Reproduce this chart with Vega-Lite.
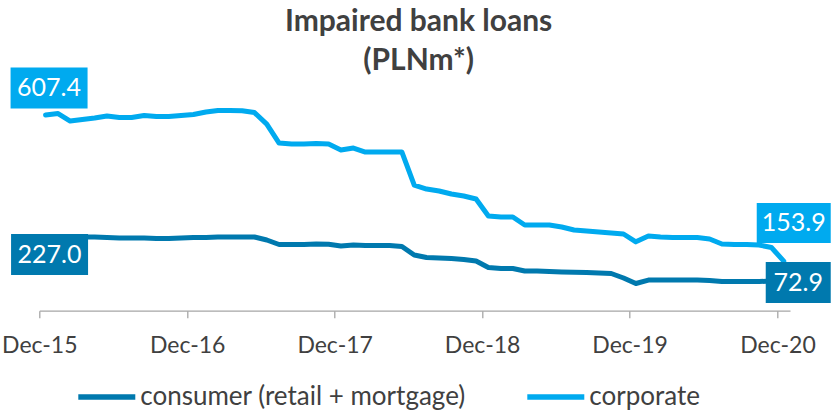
{
  "$schema": "https://vega.github.io/schema/vega-lite/v6.json",
  "width": 750.7,
  "height": 225.5,
  "autosize": "none",
  "padding": {"left": 39.3, "top": 85.2, "right": 46, "bottom": 101.3},
  "background": "white",
  "config": {"view": {"stroke": null}, "font": "Lato"},
  "title": {
    "text": ["Impaired bank loans", "(PLNm*)"],
    "font": "Lato",
    "fontSize": 30,
    "fontWeight": "bold",
    "color": "#404040",
    "lineHeight": 39,
    "anchor": "middle",
    "offset": -8,
    "dx": 4
  },
  "data": {
    "values": [
      {"date": "2015-12-01T00:00", "consumer": 227.0, "corporate": 607.4},
      {"date": "2016-01-01T00:00", "consumer": 228.0, "corporate": 612.0},
      {"date": "2016-02-01T00:00", "consumer": 227.2, "corporate": 588.8},
      {"date": "2016-03-01T00:00", "consumer": 228.7, "corporate": 593.4},
      {"date": "2016-04-01T00:00", "consumer": 228.7, "corporate": 598.1},
      {"date": "2016-05-01T00:00", "consumer": 227.2, "corporate": 604.3},
      {"date": "2016-06-01T00:00", "consumer": 225.6, "corporate": 599.6},
      {"date": "2016-07-01T00:00", "consumer": 225.6, "corporate": 599.6},
      {"date": "2016-08-01T00:00", "consumer": 225.6, "corporate": 605.8},
      {"date": "2016-09-01T00:00", "consumer": 224.1, "corporate": 602.7},
      {"date": "2016-10-01T00:00", "consumer": 224.1, "corporate": 602.7},
      {"date": "2016-11-01T00:00", "consumer": 225.6, "corporate": 605.8},
      {"date": "2016-12-01T00:00", "consumer": 227.2, "corporate": 608.9},
      {"date": "2017-01-01T00:00", "consumer": 227.2, "corporate": 616.7},
      {"date": "2017-02-01T00:00", "consumer": 228.7, "corporate": 621.4},
      {"date": "2017-03-01T00:00", "consumer": 228.7, "corporate": 621.4},
      {"date": "2017-04-01T00:00", "consumer": 228.7, "corporate": 620.7},
      {"date": "2017-05-01T00:00", "consumer": 228.7, "corporate": 615.0},
      {"date": "2017-06-01T00:00", "consumer": 219.4, "corporate": 579.4},
      {"date": "2017-07-01T00:00", "consumer": 205.5, "corporate": 520.4},
      {"date": "2017-08-01T00:00", "consumer": 205.5, "corporate": 517.3},
      {"date": "2017-09-01T00:00", "consumer": 205.5, "corporate": 517.3},
      {"date": "2017-10-01T00:00", "consumer": 207.0, "corporate": 518.9},
      {"date": "2017-11-01T00:00", "consumer": 206.1, "corporate": 517.3},
      {"date": "2017-12-01T00:00", "consumer": 200.8, "corporate": 498.8},
      {"date": "2018-01-01T00:00", "consumer": 203.9, "corporate": 505.0},
      {"date": "2018-02-01T00:00", "consumer": 202.4, "corporate": 492.6},
      {"date": "2018-03-01T00:00", "consumer": 202.4, "corporate": 492.6},
      {"date": "2018-04-01T00:00", "consumer": 202.4, "corporate": 492.6},
      {"date": "2018-05-01T00:00", "consumer": 199.3, "corporate": 492.6},
      {"date": "2018-06-01T00:00", "consumer": 172.9, "corporate": 390.1},
      {"date": "2018-07-01T00:00", "consumer": 165.1, "corporate": 377.7},
      {"date": "2018-08-01T00:00", "consumer": 163.6, "corporate": 371.5},
      {"date": "2018-09-01T00:00", "consumer": 162.0, "corporate": 362.2},
      {"date": "2018-10-01T00:00", "consumer": 158.9, "corporate": 356.0},
      {"date": "2018-11-01T00:00", "consumer": 154.3, "corporate": 346.7},
      {"date": "2018-12-01T00:00", "consumer": 134.1, "corporate": 293.9},
      {"date": "2019-01-01T00:00", "consumer": 131.0, "corporate": 290.8},
      {"date": "2019-02-01T00:00", "consumer": 131.0, "corporate": 290.8},
      {"date": "2019-03-01T00:00", "consumer": 123.2, "corporate": 266.0},
      {"date": "2019-04-01T00:00", "consumer": 123.2, "corporate": 266.0},
      {"date": "2019-05-01T00:00", "consumer": 121.7, "corporate": 266.0},
      {"date": "2019-06-01T00:00", "consumer": 120.1, "corporate": 259.8},
      {"date": "2019-07-01T00:00", "consumer": 119.2, "corporate": 250.5},
      {"date": "2019-08-01T00:00", "consumer": 118.6, "corporate": 247.4},
      {"date": "2019-09-01T00:00", "consumer": 117.0, "corporate": 244.3},
      {"date": "2019-10-01T00:00", "consumer": 115.5, "corporate": 241.2},
      {"date": "2019-11-01T00:00", "consumer": 101.5, "corporate": 238.1},
      {"date": "2019-12-01T00:00", "consumer": 84.4, "corporate": 213.7},
      {"date": "2020-01-01T00:00", "consumer": 95.0, "corporate": 231.8},
      {"date": "2020-02-01T00:00", "consumer": 95.3, "corporate": 228.7},
      {"date": "2020-03-01T00:00", "consumer": 95.3, "corporate": 227.0},
      {"date": "2020-04-01T00:00", "consumer": 95.3, "corporate": 227.0},
      {"date": "2020-05-01T00:00", "consumer": 95.3, "corporate": 227.0},
      {"date": "2020-06-01T00:00", "consumer": 93.7, "corporate": 222.5},
      {"date": "2020-07-01T00:00", "consumer": 90.6, "corporate": 207.0},
      {"date": "2020-08-01T00:00", "consumer": 90.6, "corporate": 205.5},
      {"date": "2020-09-01T00:00", "consumer": 90.6, "corporate": 205.5},
      {"date": "2020-10-01T00:00", "consumer": 90.6, "corporate": 203.9},
      {"date": "2020-11-01T00:00", "consumer": 92.2, "corporate": 196.2},
      {"date": "2020-12-01T00:00", "consumer": 72.9, "corporate": 153.9}
    ]
  },
  "transform": [
    {"fold": ["consumer", "corporate"], "as": ["series", "value"]}
  ],
  "encoding": {
    "x": {
      "field": "date",
      "timeUnit": "yearmonth",
      "type": "temporal",
      "bandPosition": 0.5,
      "scale": {
        "domain": [{"year": 2015, "month": 12, "date": 1}, {"year": 2021, "month": 1, "date": 1}],
        "nice": false
      },
      "axis": {
        "values": [
          {"year": 2015, "month": 12, "date": 1},
          {"year": 2016, "month": 12, "date": 1},
          {"year": 2017, "month": 12, "date": 1},
          {"year": 2018, "month": 12, "date": 1},
          {"year": 2019, "month": 12, "date": 1},
          {"year": 2020, "month": 12, "date": 1}
        ],
        "format": "%b-%y",
        "formatType": "time",
        "title": null,
        "grid": false,
        "domainColor": "#a6a6a6",
        "domainWidth": 1.3,
        "tickColor": "#a6a6a6",
        "tickWidth": 1.3,
        "tickSize": 7,
        "labelFont": "Lato",
        "labelFontSize": 23,
        "labelColor": "#404040",
        "labelPadding": 17,
        "labelFlush": false,
        "labelOverlap": false
      }
    },
    "y": {
      "field": "value",
      "type": "quantitative",
      "scale": {"domain": [0, 700], "nice": false},
      "axis": null
    }
  },
  "layer": [
    {
      "mark": {"type": "line", "strokeWidth": 5, "strokeCap": "round", "strokeJoin": "round"},
      "encoding": {
        "color": {
          "field": "series",
          "type": "nominal",
          "scale": {"domain": ["consumer", "corporate"], "range": ["#0079ae", "#00aaef"]},
          "legend": {
            "orient": "none",
            "legendX": 36,
            "legendY": 280,
            "direction": "horizontal",
            "title": null,
            "symbolType": "stroke",
            "symbolStrokeWidth": 5.5,
            "symbolSize": 3249,
            "labelFont": "Lato",
            "labelFontSize": 26,
            "labelColor": "#404040",
            "labelOffset": 2,
            "labelLimit": 500,
            "columnPadding": 50,
            "labelExpr": "datum.label == 'consumer' ? 'consumer (retail + mortgage)' : datum.label"
          }
        }
      }
    },
    {
      "transform": [{"filter": "datum.series == 'corporate' && year(datum.date) == 2015"}],
      "layer": [
        {"mark": {"type": "point", "shape": "M-1,-0.532H1V0.532H-1Z", "size": 5929, "filled": true, "opacity": 1, "color": "#00aaef", "strokeWidth": 0, "xOffset": 3.5, "yOffset": -27}},
        {"mark": {"type": "text", "color": "white", "font": "Lato", "fontSize": 25, "align": "center", "baseline": "middle", "dx": 3.5, "dy": -27}, "encoding": {"text": {"field": "value", "type": "quantitative", "format": ".1f"}}}
      ]
    },
    {
      "transform": [{"filter": "datum.series == 'consumer' && year(datum.date) == 2015"}],
      "layer": [
        {"mark": {"type": "point", "shape": "M-1,-0.532H1V0.532H-1Z", "size": 5929, "filled": true, "opacity": 1, "color": "#0079ae", "strokeWidth": 0, "xOffset": 4, "yOffset": 17}},
        {"mark": {"type": "text", "color": "white", "font": "Lato", "fontSize": 25, "align": "center", "baseline": "middle", "dx": 4, "dy": 17}, "encoding": {"text": {"field": "value", "type": "quantitative", "format": ".1f"}}}
      ]
    },
    {
      "transform": [{"filter": "datum.series == 'corporate' && year(datum.date) == 2020 && month(datum.date) == 11"}],
      "layer": [
        {"mark": {"type": "point", "shape": "M-1,-0.5405H1V0.5405H-1Z", "size": 5476, "filled": true, "opacity": 1, "color": "#00aaef", "strokeWidth": 0, "xOffset": 10, "yOffset": -38}},
        {"mark": {"type": "text", "color": "white", "font": "Lato", "fontSize": 25, "align": "center", "baseline": "middle", "dx": 10, "dy": -38}, "encoding": {"text": {"field": "value", "type": "quantitative", "format": ".1f"}}}
      ]
    },
    {
      "transform": [{"filter": "datum.series == 'consumer' && year(datum.date) == 2020 && month(datum.date) == 11"}],
      "layer": [
        {"mark": {"type": "point", "shape": "M-1,-0.631H1V0.631H-1Z", "size": 4225, "filled": true, "opacity": 1, "color": "#0079ae", "strokeWidth": 0, "xOffset": 14.5, "yOffset": -4.7}},
        {"mark": {"type": "text", "color": "white", "font": "Lato", "fontSize": 25, "align": "center", "baseline": "middle", "dx": 14.5, "dy": -4.7}, "encoding": {"text": {"field": "value", "type": "quantitative", "format": ".1f"}}}
      ]
    }
  ]
}
